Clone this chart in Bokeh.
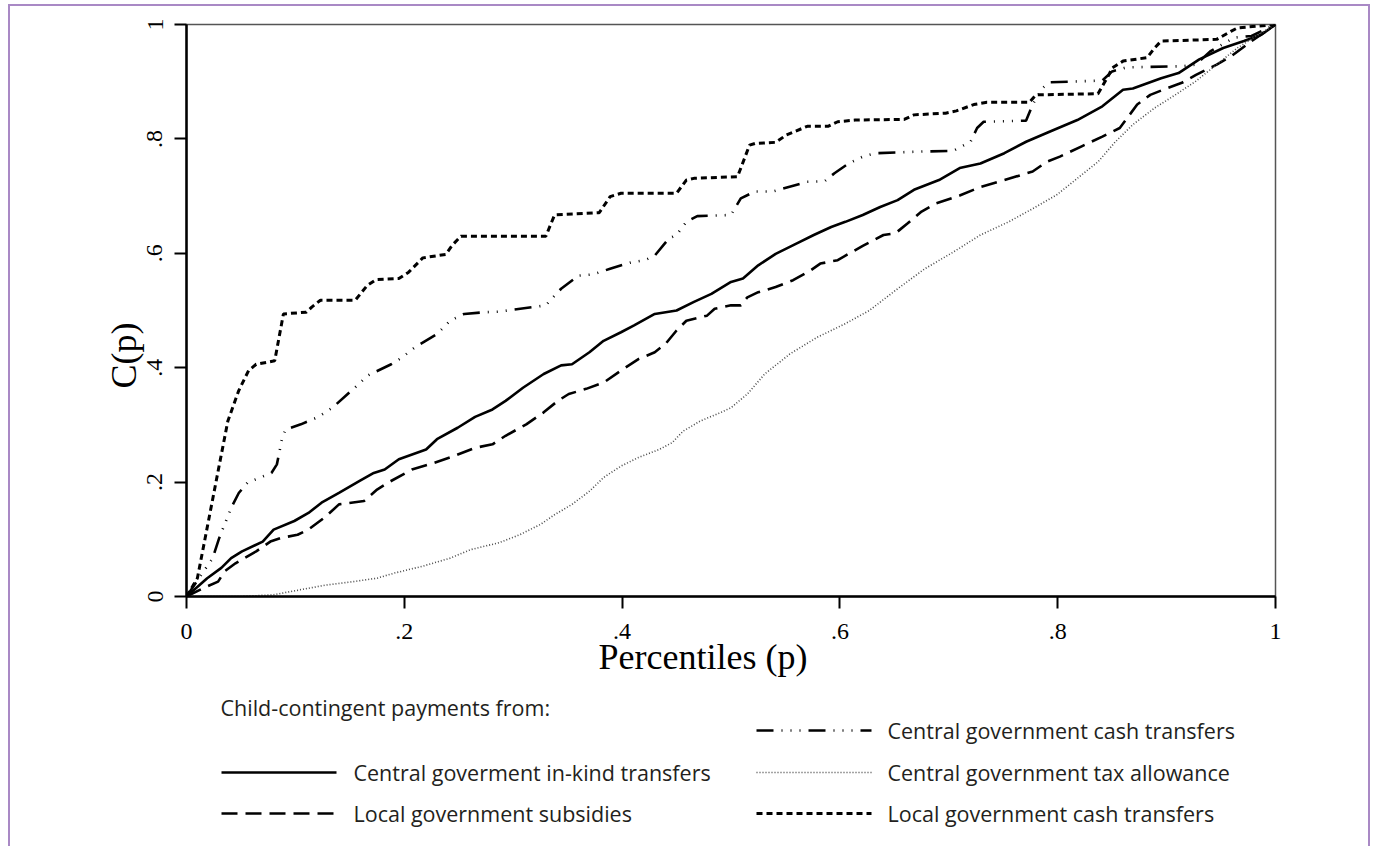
from bokeh.plotting import figure
from bokeh.layouts import column
from bokeh.models import Range1d, FixedTicker, CustomJSTickFormatter, Title
from bokeh.core.properties import value
from bokeh.embed import file_html
from bokeh.resources import INLINE

# ---------------- data ----------------
tick_values = [0, 0.2, 0.4, 0.6, 0.8, 1.0]
tick_labels = ["0", ".2", ".4", ".6", ".8", "1"]

legend_title = "Child-contingent payments from:"
series_names = [
    "Central goverment in-kind transfers",
    "Local government subsidies",
    "Central government cash transfers",
    "Central government tax allowance",
    "Local government cash transfers",
]

inkind = [(0, 0), (0.019, 0.032), (0.032, 0.050), (0.041, 0.067), (0.051, 0.079), (0.070, 0.096),
          (0.080, 0.117), (0.099, 0.132), (0.112, 0.146), (0.124, 0.164), (0.140, 0.181), (0.159, 0.202),
          (0.172, 0.216), (0.182, 0.222), (0.195, 0.240), (0.220, 0.257), (0.230, 0.275), (0.249, 0.295),
          (0.265, 0.314), (0.281, 0.327), (0.293, 0.342), (0.309, 0.365), (0.328, 0.389), (0.344, 0.404),
          (0.354, 0.406), (0.370, 0.427), (0.383, 0.447), (0.399, 0.462), (0.411, 0.474), (0.430, 0.494),
          (0.450, 0.500), (0.466, 0.515), (0.482, 0.529), (0.500, 0.550), (0.511, 0.556), (0.525, 0.579),
          (0.541, 0.599), (0.560, 0.617), (0.576, 0.632), (0.592, 0.646), (0.605, 0.655), (0.621, 0.667),
          (0.637, 0.681), (0.653, 0.693), (0.668, 0.711), (0.691, 0.728), (0.710, 0.749), (0.729, 0.757),
          (0.751, 0.775), (0.771, 0.795), (0.793, 0.813), (0.818, 0.833), (0.841, 0.857), (0.860, 0.886),
          (0.869, 0.888), (0.895, 0.906), (0.911, 0.915), (0.930, 0.939), (0.952, 0.959), (0.971, 0.971),
          (0.987, 0.982), (1, 1)]

subsidies = [(0, 0), (0.016, 0.015), (0.029, 0.026), (0.035, 0.044), (0.045, 0.058), (0.064, 0.079),
             (0.077, 0.096), (0.086, 0.102), (0.102, 0.108), (0.112, 0.117), (0.128, 0.140), (0.140, 0.161),
             (0.163, 0.167), (0.175, 0.187), (0.185, 0.199), (0.207, 0.222), (0.223, 0.231), (0.242, 0.243),
             (0.265, 0.260), (0.281, 0.266), (0.293, 0.281), (0.312, 0.301), (0.328, 0.322), (0.341, 0.342),
             (0.351, 0.354), (0.367, 0.363), (0.383, 0.374), (0.399, 0.395), (0.415, 0.415), (0.430, 0.427),
             (0.440, 0.442), (0.450, 0.465), (0.459, 0.482), (0.478, 0.491), (0.485, 0.503), (0.500, 0.509),
             (0.509, 0.509), (0.515, 0.523), (0.525, 0.532), (0.541, 0.541), (0.557, 0.553), (0.573, 0.570),
             (0.582, 0.582), (0.598, 0.588), (0.608, 0.599), (0.621, 0.613), (0.640, 0.632), (0.651, 0.635),
             (0.662, 0.652), (0.675, 0.673), (0.688, 0.687), (0.710, 0.701), (0.729, 0.716), (0.751, 0.728),
             (0.777, 0.743), (0.790, 0.760), (0.802, 0.769), (0.822, 0.787), (0.841, 0.804), (0.857, 0.819),
             (0.866, 0.842), (0.873, 0.860), (0.885, 0.877), (0.901, 0.889), (0.914, 0.898), (0.927, 0.912),
             (0.946, 0.930), (0.959, 0.944), (0.978, 0.971), (1, 1)]

central_cash = [(0, 0), (0.024, 0.067), (0.030, 0.102), (0.035, 0.126), (0.041, 0.155), (0.048, 0.181),
                (0.056, 0.199), (0.078, 0.216), (0.083, 0.231), (0.088, 0.278), (0.091, 0.292), (0.105, 0.301),
                (0.120, 0.313), (0.134, 0.330), (0.148, 0.354), (0.158, 0.371), (0.166, 0.386), (0.188, 0.406),
                (0.198, 0.418), (0.210, 0.436), (0.230, 0.459), (0.242, 0.482), (0.255, 0.494), (0.274, 0.497),
                (0.287, 0.498), (0.330, 0.509), (0.335, 0.520), (0.344, 0.538), (0.360, 0.561), (0.373, 0.563),
                (0.389, 0.573), (0.408, 0.584), (0.421, 0.588), (0.430, 0.596), (0.443, 0.626), (0.450, 0.632),
                (0.459, 0.655), (0.469, 0.665), (0.500, 0.667), (0.509, 0.696), (0.522, 0.708), (0.538, 0.708),
                (0.570, 0.725), (0.586, 0.726), (0.595, 0.740), (0.608, 0.757), (0.621, 0.769), (0.633, 0.775),
                (0.676, 0.778), (0.704, 0.779), (0.720, 0.795), (0.726, 0.819), (0.732, 0.830), (0.771, 0.832),
                (0.777, 0.860), (0.786, 0.889), (0.793, 0.899), (0.841, 0.902), (0.850, 0.918), (0.863, 0.925),
                (0.914, 0.927), (0.927, 0.930), (0.940, 0.953), (0.962, 0.977), (0.978, 0.980), (1, 1)]

tax_allowance = [(0, 0), (0.050, 0.0), (0.080, 0.003), (0.105, 0.012), (0.128, 0.020), (0.153, 0.026),
                 (0.175, 0.032), (0.191, 0.041), (0.217, 0.053), (0.242, 0.067), (0.261, 0.082), (0.287, 0.094),
                 (0.306, 0.108), (0.325, 0.126), (0.338, 0.143), (0.354, 0.161), (0.370, 0.184), (0.383, 0.208),
                 (0.399, 0.228), (0.415, 0.243), (0.434, 0.257), (0.446, 0.269), (0.456, 0.289), (0.472, 0.307),
                 (0.491, 0.322), (0.500, 0.330), (0.515, 0.354), (0.531, 0.389), (0.554, 0.424), (0.579, 0.453),
                 (0.605, 0.477), (0.627, 0.500), (0.653, 0.538), (0.678, 0.573), (0.704, 0.602), (0.729, 0.632),
                 (0.755, 0.655), (0.777, 0.678), (0.799, 0.702), (0.818, 0.731), (0.837, 0.760), (0.853, 0.795),
                 (0.869, 0.825), (0.889, 0.854), (0.908, 0.877), (0.927, 0.901), (0.946, 0.930), (0.965, 0.959),
                 (0.984, 0.982), (1, 1)]

local_cash = [(0, 0), (0.010, 0.032), (0.029, 0.219), (0.038, 0.307), (0.048, 0.360), (0.057, 0.395),
              (0.064, 0.406), (0.081, 0.412), (0.089, 0.494), (0.110, 0.497), (0.115, 0.506), (0.123, 0.518),
              (0.155, 0.518), (0.166, 0.544), (0.174, 0.554), (0.195, 0.556), (0.204, 0.567), (0.217, 0.592),
              (0.238, 0.598), (0.244, 0.614), (0.252, 0.630), (0.330, 0.630), (0.338, 0.667), (0.379, 0.671),
              (0.389, 0.699), (0.399, 0.705), (0.450, 0.705), (0.459, 0.728), (0.466, 0.731), (0.506, 0.734),
              (0.517, 0.789), (0.522, 0.792), (0.541, 0.794), (0.551, 0.807), (0.570, 0.822), (0.589, 0.822),
              (0.598, 0.830), (0.614, 0.833), (0.659, 0.834), (0.668, 0.842), (0.697, 0.845), (0.707, 0.849),
              (0.723, 0.860), (0.735, 0.864), (0.774, 0.864), (0.780, 0.877), (0.837, 0.879), (0.847, 0.912),
              (0.850, 0.924), (0.860, 0.936), (0.882, 0.942), (0.889, 0.959), (0.895, 0.971), (0.946, 0.974),
              (0.959, 0.988), (0.965, 0.994), (1, 1)]

# ---------------- main figure ----------------
W = 1358
TOP, LEFT, FW, FH, BOTTOM = 18, 176, 1089, 572, 90
RIGHT = W - LEFT - FW
p = figure(width=W, height=TOP + FH + BOTTOM, output_backend="svg", toolbar_location=None,
           x_range=Range1d(0, 1), y_range=Range1d(0, 1),
           min_border_left=LEFT, min_border_right=RIGHT, min_border_top=TOP,
           min_border_bottom=BOTTOM)
p.background_fill_color = "white"
p.border_fill_color = "white"
p.outline_line_color = "#555555"
p.outline_line_width = 1.5
p.grid.visible = False

fmt = CustomJSTickFormatter(args=dict(vals=tick_values, labs=tick_labels), code="""
    for (let i = 0; i < vals.length; i++) { if (Math.abs(tick - vals[i]) < 1e-9) return labs[i]; }
    return '';
""")
for ax in (p.xaxis[0], p.yaxis[0]):
    ax.ticker = FixedTicker(ticks=tick_values)
    ax.formatter = fmt
    ax.axis_line_width = 2.5
    ax.axis_line_color = "black"
    ax.major_tick_out = 12
    ax.major_tick_in = 0
    ax.major_tick_line_width = 2
    ax.minor_tick_line_color = None
    ax.major_label_text_font = "Liberation Serif"
    ax.major_label_text_font_size = "24px"
    ax.major_label_text_color = "black"
p.xaxis[0].major_label_standoff = 15
p.yaxis[0].major_label_standoff = 12
p.yaxis[0].major_label_orientation = "vertical"

styles = [
    dict(line_color="black", line_width=2.6, line_dash="solid"),
    dict(line_color="black", line_width=2.6, line_dash="16 8"),
    dict(line_color="black", line_width=2.6, line_dash="17 8 1 8 1 8 1 8"),
    dict(line_color="#4a4a4a", line_width=1.6, line_dash="1 2"),
    dict(line_color="black", line_width=3, line_dash="6 4"),
]
data = [inkind, subsidies, central_cash, tax_allowance, local_cash]
for pts, st in zip(data, styles):
    xs, ys = zip(*pts)
    p.line(list(xs), list(ys), **st)

p.add_layout(Title(text="Percentiles (p)", align="left", offset=412, standoff=-14,
                   text_font="Liberation Serif", text_font_size="36px", text_font_style="normal",
                   text_color="black"), "below")
p.add_layout(Title(text="C(p)", align="left", offset=208, standoff=2,
                   text_font="Liberation Serif", text_font_size="36px", text_font_style="normal",
                   text_color="black"), "left")

# ---------------- legend figure (page-pixel coordinates) ----------------
LH = 160
Y0 = 686  # page y of the legend figure top
lg = figure(width=W, height=LH, output_backend="svg", toolbar_location=None,
            x_range=Range1d(186, 1275), y_range=Range1d(Y0 + LH, Y0),
            min_border_left=LEFT, min_border_right=RIGHT, min_border_top=0, min_border_bottom=0)
lg.axis.visible = False
lg.grid.visible = False
lg.outline_line_color = None
lg.background_fill_color = "white"
lg.border_fill_color = "white"

rows = [730, 772, 813]
# (glyph x0, glyph x1, text x, row y)
slots = [(221, 336, 353, rows[1]), (221, 336, 353, rows[2]),
         (756, 871, 887, rows[0]), (756, 871, 887, rows[1]), (756, 871, 887, rows[2])]
for (gx0, gx1, tx, ry), st, name in zip(slots, styles, series_names):
    lg.line([gx0, gx1], [ry, ry], **st)
    lg.text(x=[tx], y=[ry], text=[name], text_font=value("Open Sans"),
            text_font_size=value("21.5px"), text_color="#231f20", text_baseline="middle",
            text_align="left")
lg.text(x=[220], y=[707], text=[legend_title], text_font=value("Open Sans"),
        text_font_size=value("21.5px"), text_color="#231f20", text_baseline="middle", text_align="left")

layout = column(p, lg, spacing=0)
layout.styles = {"margin-left": "8px", "margin-top": "4px",
                 "border-top": "2px solid #a989c5", "border-left": "2px solid #a989c5",
                 "border-right": "2px solid #a989c5"}

open("out.html", "w").write(file_html(layout, INLINE))
